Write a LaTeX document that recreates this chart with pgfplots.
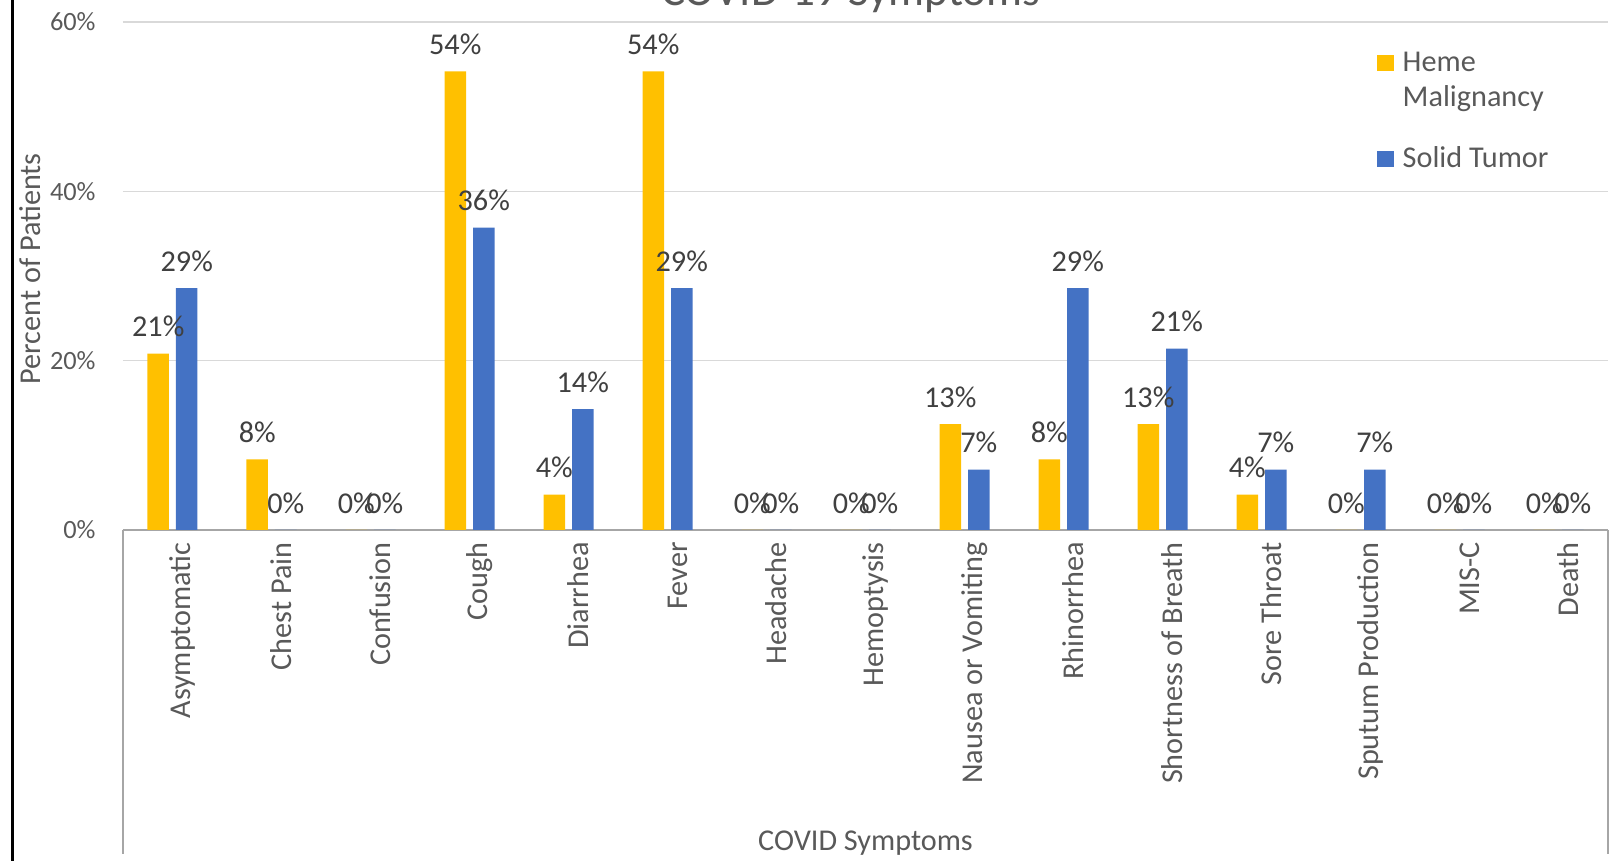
\documentclass[border=0pt]{standalone}
\usepackage{fontspec}
\setmainfont{Carlito}
\usepackage{pgfplots}
\pgfplotsset{compat=1.18}

\definecolor{heme}{HTML}{FFC000}
\definecolor{solid}{HTML}{4472C4}
\definecolor{txt}{HTML}{595959}
\definecolor{lbl}{HTML}{404040}
\definecolor{gridc}{HTML}{D9D9D9}
\definecolor{axc}{HTML}{A6A6A6}

\begin{document}
\begin{tikzpicture}
\begin{axis}[
    at={(12.3mm,33.1mm)}, anchor=south west,
    scale only axis,
    width=148.5mm, height=50.8mm,
    ybar=0.7mm,
    bar width=2.15mm,
    xmin=-0.5, xmax=14.5,
    ymin=0, ymax=60,
    clip=false,
    axis x line*=bottom,
    axis y line*=left,
    x axis line style={-, draw=axc, line width=0.2mm},
    y axis line style={draw=none},
    major tick length=0pt,
    /pgf/number format/assume math mode=true,
    xtick=data,
    xticklabels={Asymptomatic, Chest Pain, Confusion, Cough, Diarrhea, Fever,
        Headache, Hemoptysis, Nausea or Vomiting, Rhinorrhea,
        Shortness of Breath, Sore Throat, Sputum Production, MIS-C, Death},
    xticklabel style={rotate=90, anchor=east, text=txt,
        font=\fontsize{8.6}{10}\selectfont, yshift=-1mm},
    ytick={0,20,40,60},
    yticklabel={\pgfmathprintnumber{\tick}\%},
    yticklabel style={text=txt, font=\fontsize{7.5}{9}\selectfont, xshift=-1.5mm},
    ymajorgrids,
    grid style={draw=gridc, line width=0.15mm},
    title={COVID-19 Symptoms},
    every axis title shift=0pt,
    title style={at={(rel axis cs:0.49,1)}, anchor=base, yshift=1.7mm,
        text=txt, font=\fontsize{12.8}{15}\selectfont},
    xlabel={COVID Symptoms},
    xlabel style={at={(rel axis cs:0.5,0)}, anchor=center, yshift=-31.3mm,
        text=txt, font=\fontsize{8.6}{10}\selectfont},
    ylabel={Percent of Patients},
    ylabel style={at={([xshift=-9.3mm]rel axis cs:0,0.514)}, anchor=center,
        text=txt, font=\fontsize{8.6}{10}\selectfont},
    nodes near coords={\pgfmathprintnumber[fixed,precision=0]{\pgfplotspointmeta}\%},
    nodes near coords style={anchor=south, inner sep=0pt, yshift=1.6mm,
        text=lbl, font=\fontsize{8.6}{10}\selectfont},
    legend style={draw=none, fill=none, at={(rel axis cs:0.8438,0.9415)},
        anchor=north west, inner sep=0pt, row sep=3.5mm, column sep=0pt,
        font=\fontsize{8.6}{9.8}\selectfont,
        cells={align=left, anchor=base west},
        nodes={inner sep=0pt, text=txt}},
]
\addplot[fill=heme, draw=none,
    legend image code/.code={\fill[heme] (0mm,3.5mm) rectangle (1.7mm,5.15mm);
        \path (2.6mm,1mm);}] coordinates {
    (0,20.83) (1,8.33) (2,0) (3,54.17) (4,4.17) (5,54.17) (6,0) (7,0)
    (8,12.5) (9,8.33) (10,12.5) (11,4.17) (12,0) (13,0) (14,0)
};
\addplot[fill=solid, draw=none,
    legend image code/.code={\fill[solid] (0mm,0.05mm) rectangle (1.7mm,1.7mm);
        \path (2.6mm,1mm);}] coordinates {
    (0,28.57) (1,0) (2,0) (3,35.71) (4,14.29) (5,28.57) (6,0) (7,0)
    (8,7.14) (9,28.57) (10,21.43) (11,7.14) (12,7.14) (13,0) (14,0)
};
\legend{Heme\\Malignancy, Solid Tumor}
\draw[axc, line width=0.2mm] (axis cs:-0.5,0) -- ([yshift=-32.4mm]axis cs:-0.5,0);
\draw[axc, line width=0.2mm] (axis cs:14.5,0) -- ([yshift=-32.4mm]axis cs:14.5,0);
\end{axis}
\draw[black, line width=0.27mm] (1.27mm,-1mm) -- (1.27mm,90mm);
\pgfresetboundingbox
\useasboundingbox (0,0) rectangle (161mm,86.1mm);
\end{tikzpicture}
\end{document}
